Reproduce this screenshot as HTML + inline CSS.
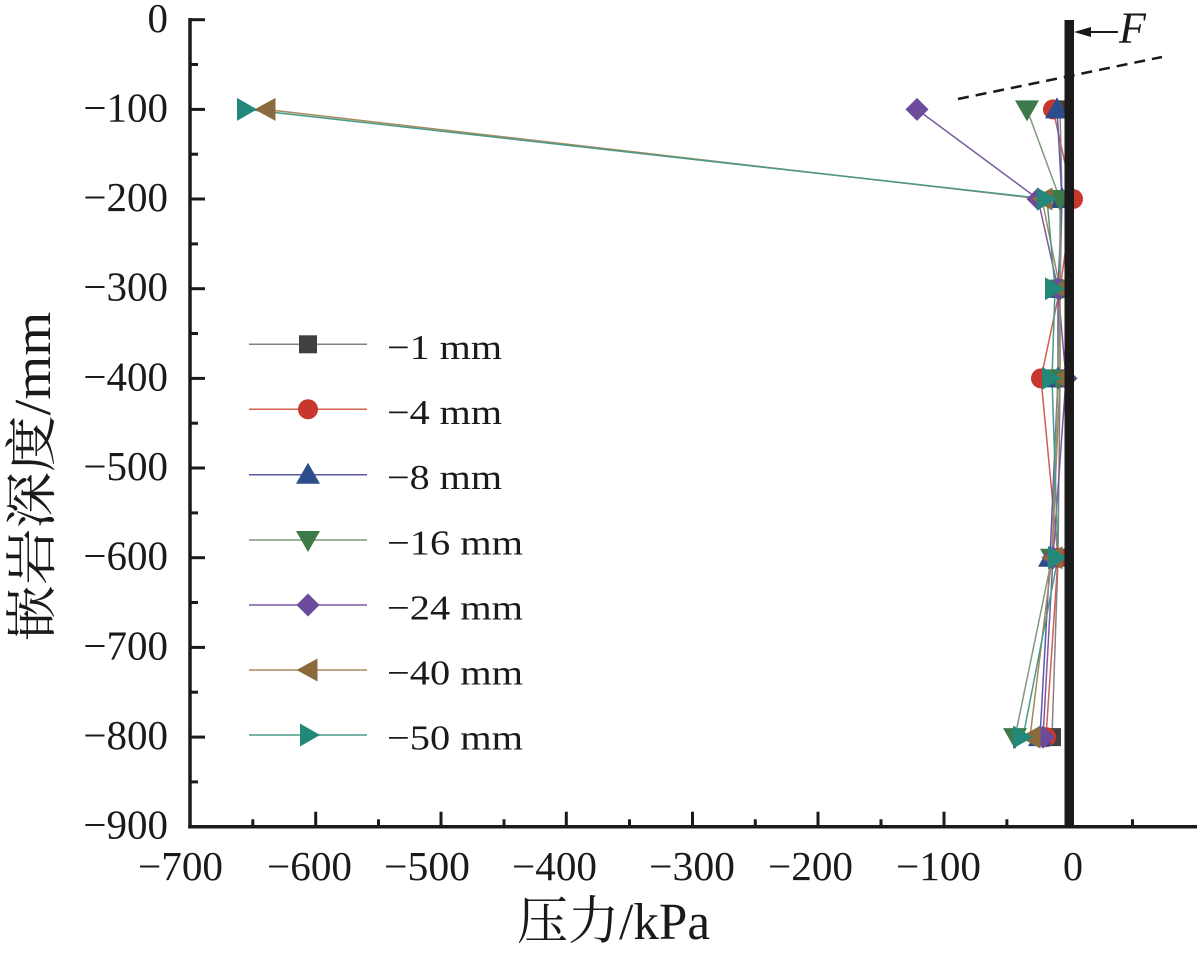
<!DOCTYPE html>
<html>
<head>
<meta charset="utf-8">
<style>
html,body{margin:0;padding:0;background:#fff;}
svg{display:block;}
text{font-family:"Liberation Serif","Noto Serif CJK SC",serif;fill:#1a1a1a;}
</style>
</head>
<body>
<svg width="1204" height="959" viewBox="0 0 1204 959" xmlns="http://www.w3.org/2000/svg">
<rect width="1204" height="959" fill="#fff"/>

<!-- axes -->
<g stroke="#1a1a1a" stroke-width="3.5" fill="none">
  <line x1="190" y1="18" x2="190" y2="828.5"/>
  <line x1="188.2" y1="826.7" x2="1197" y2="826.7"/>
</g>
<!-- y ticks -->
<g stroke="#1a1a1a" stroke-width="3">
  <line x1="190" y1="19.7" x2="205" y2="19.7"/>
  <line x1="190" y1="109.4" x2="205" y2="109.4"/>
  <line x1="190" y1="199.0" x2="205" y2="199.0"/>
  <line x1="190" y1="288.7" x2="205" y2="288.7"/>
  <line x1="190" y1="378.4" x2="205" y2="378.4"/>
  <line x1="190" y1="468.0" x2="205" y2="468.0"/>
  <line x1="190" y1="557.7" x2="205" y2="557.7"/>
  <line x1="190" y1="647.4" x2="205" y2="647.4"/>
  <line x1="190" y1="737.1" x2="205" y2="737.1"/>
  <line x1="190" y1="64.5" x2="198" y2="64.5"/>
  <line x1="190" y1="154.2" x2="198" y2="154.2"/>
  <line x1="190" y1="243.9" x2="198" y2="243.9"/>
  <line x1="190" y1="333.5" x2="198" y2="333.5"/>
  <line x1="190" y1="423.2" x2="198" y2="423.2"/>
  <line x1="190" y1="512.9" x2="198" y2="512.9"/>
  <line x1="190" y1="602.5" x2="198" y2="602.5"/>
  <line x1="190" y1="692.2" x2="198" y2="692.2"/>
  <line x1="190" y1="781.9" x2="198" y2="781.9"/>
</g>
<!-- x ticks -->
<g stroke="#1a1a1a" stroke-width="3">
  <line x1="315.7" y1="826.7" x2="315.7" y2="811.7"/>
  <line x1="441.0" y1="826.7" x2="441.0" y2="811.7"/>
  <line x1="566.3" y1="826.7" x2="566.3" y2="811.7"/>
  <line x1="692.5" y1="826.7" x2="692.5" y2="811.7"/>
  <line x1="818.0" y1="826.7" x2="818.0" y2="811.7"/>
  <line x1="944.0" y1="826.7" x2="944.0" y2="811.7"/>
  <line x1="252.8" y1="826.7" x2="252.8" y2="819.3"/>
  <line x1="378.5" y1="826.7" x2="378.5" y2="819.3"/>
  <line x1="504.0" y1="826.7" x2="504.0" y2="819.3"/>
  <line x1="629.5" y1="826.7" x2="629.5" y2="819.3"/>
  <line x1="755.3" y1="826.7" x2="755.3" y2="819.3"/>
  <line x1="881.0" y1="826.7" x2="881.0" y2="819.3"/>
  <line x1="1006.9" y1="826.7" x2="1006.9" y2="819.3"/>
  <line x1="1132.5" y1="826.7" x2="1132.5" y2="819.3"/>
</g>

<!-- y tick labels -->
<g font-size="41" text-anchor="end">
  <text x="168" y="32">0</text>
  <text x="168" y="121.5">−100</text>
  <text x="168" y="211">−200</text>
  <text x="168" y="300.7">−300</text>
  <text x="168" y="390.4">−400</text>
  <text x="168" y="480">−500</text>
  <text x="168" y="569.7">−600</text>
  <text x="168" y="659.4">−700</text>
  <text x="168" y="749.1">−800</text>
  <text x="168" y="838.7">−900</text>
</g>
<!-- x tick labels -->
<g font-size="41">
  <text x="138" y="880" textLength="85" lengthAdjust="spacingAndGlyphs">−700</text>
  <text x="267" y="880" textLength="85" lengthAdjust="spacingAndGlyphs">−600</text>
  <text x="384" y="880" textLength="86" lengthAdjust="spacingAndGlyphs">−500</text>
  <text x="512" y="880" textLength="85" lengthAdjust="spacingAndGlyphs">−400</text>
  <text x="649" y="880" textLength="86" lengthAdjust="spacingAndGlyphs">−300</text>
  <text x="768" y="880" textLength="85" lengthAdjust="spacingAndGlyphs">−200</text>
  <text x="896" y="880" textLength="85" lengthAdjust="spacingAndGlyphs">−100</text>
  <text x="1063" y="880" textLength="20" lengthAdjust="spacingAndGlyphs">0</text>
</g>

<!-- axis titles -->
<text x="517" y="939" font-size="52" textLength="193" lengthAdjust="spacingAndGlyphs">压力/kPa</text>
<text transform="translate(50,641.7) rotate(-90)" x="0" y="0" font-size="52" textLength="330" lengthAdjust="spacingAndGlyphs">嵌岩深度/mm</text>

<!-- dashed line -->
<line x1="958" y1="99" x2="1162" y2="57" stroke="#1a1a1a" stroke-width="2.5" stroke-dasharray="11,7"/>

<!-- series lines -->
<g fill="none" stroke-width="1.5">
  <polyline stroke="#85808a" points="1060,109.4 1062,199 1060,288.7 1060,378.4 1058,557.7 1052,737.1"/>
  <polyline stroke="#d0604f" points="1053,109.4 1073,199 1060,288.7 1041,378.4 1058,557.7 1046,737.1"/>
  <polyline stroke="#5a5aa6" points="1057,109.4 1062,199 1058,288.7 1058,378.4 1050,557.7 1040,737.1"/>
  <polyline stroke="#7f9a7c" points="1027,109.4 1060,199 1060,288.7 1058,378.4 1052,557.7 1015,737.1"/>
  <polyline stroke="#7a5aa2" points="917,109.4 1038,199 1058,288.7 1066,378.4 1053,557.7 1043,737.1"/>
  <polyline stroke="#a8875a" points="265,109.4 1042,199 1060,288.7 1060,378.4 1052,557.7 1030,737.1"/>
  <polyline stroke="#4a9a8a" points="247,109.4 1047,199 1055,288.7 1052,378.4 1058,557.7 1023,737.1"/>
</g>

<defs>
  <rect id="msq" x="-9" y="-9" width="18" height="18" fill="#404040"/>
  <circle id="mci" r="10" fill="#c8372d"/>
  <polygon id="mtu" points="0,-12 -12,9 12,9" fill="#2b4d8c"/>
  <polygon id="mtd" points="-12,-9 12,-9 0,12" fill="#3d7a4a"/>
  <polygon id="mdi" points="0,-11.5 11.5,0 0,11.5 -11.5,0" fill="#6c4a9c"/>
  <polygon id="mtl" points="-10.5,0 10.5,-11.5 10.5,11.5" fill="#8b6b3e"/>
  <polygon id="mtr" points="-10,-11.5 10,0 -10,11.5" fill="#23877a"/>
</defs>

<!-- series markers -->
<g>
  <use href="#msq" x="1060" y="109.4"/><use href="#msq" x="1062" y="199"/><use href="#msq" x="1060" y="288.7"/><use href="#msq" x="1060" y="378.4"/><use href="#msq" x="1058" y="557.7"/><use href="#msq" x="1052" y="737.1"/>
  <use href="#mci" x="1053" y="109.4"/><use href="#mci" x="1073" y="199"/><use href="#mci" x="1060" y="288.7"/><use href="#mci" x="1041" y="378.4"/><use href="#mci" x="1058" y="557.7"/><use href="#mci" x="1046" y="737.1"/>
  <use href="#mtu" x="1057" y="109.4"/><use href="#mtu" x="1062" y="199"/><use href="#mtu" x="1058" y="288.7"/><use href="#mtu" x="1058" y="378.4"/><use href="#mtu" x="1050" y="557.7"/><use href="#mtu" x="1040" y="737.1"/>
  <use href="#mtd" x="1027" y="109.4"/><use href="#mtd" x="1060" y="199"/><use href="#mtd" x="1060" y="288.7"/><use href="#mtd" x="1058" y="378.4"/><use href="#mtd" x="1052" y="557.7"/><use href="#mtd" x="1015" y="737.1"/>
  <use href="#mdi" x="917" y="109.4"/><use href="#mdi" x="1038" y="199"/><use href="#mdi" x="1058" y="288.7"/><use href="#mdi" x="1066" y="378.4"/><use href="#mdi" x="1053" y="557.7"/><use href="#mdi" x="1043" y="737.1"/>
  <use href="#mtl" x="265" y="109.4"/><use href="#mtl" x="1042" y="199"/><use href="#mtl" x="1060" y="288.7"/><use href="#mtl" x="1060" y="378.4"/><use href="#mtl" x="1052" y="557.7"/><use href="#mtl" x="1030" y="737.1"/>
  <use href="#mtr" x="247" y="109.4"/><use href="#mtr" x="1047" y="199"/><use href="#mtr" x="1055" y="288.7"/><use href="#mtr" x="1052" y="378.4"/><use href="#mtr" x="1058" y="557.7"/><use href="#mtr" x="1023" y="737.1"/>
</g>

<!-- pile -->
<rect x="1064.5" y="20" width="9.5" height="807" fill="#1a1a1a"/>
<!-- F arrow -->
<line x1="1089" y1="32" x2="1118" y2="32" stroke="#1a1a1a" stroke-width="2"/>
<polygon points="1074,32 1091,27 1091,37" fill="#1a1a1a"/>
<text x="1119" y="42.7" font-size="44" font-style="italic">F</text>

<!-- legend -->
<g stroke-width="1.5">
  <line x1="249" y1="344.3" x2="367" y2="344.3" stroke="#85808a"/>
  <line x1="249" y1="409.3" x2="367" y2="409.3" stroke="#d0604f"/>
  <line x1="249" y1="474.7" x2="367" y2="474.7" stroke="#5a5aa6"/>
  <line x1="249" y1="540" x2="367" y2="540" stroke="#7f9a7c"/>
  <line x1="249" y1="605" x2="367" y2="605" stroke="#7a5aa2"/>
  <line x1="249" y1="670" x2="367" y2="670" stroke="#a8875a"/>
  <line x1="249" y1="735" x2="367" y2="735" stroke="#4a9a8a"/>
</g>
<use href="#msq" x="308" y="344.3"/>
<use href="#mci" x="308" y="409.3"/>
<use href="#mtu" x="308" y="474.7"/>
<use href="#mtd" x="308" y="540"/>
<use href="#mdi" x="308" y="605"/>
<use href="#mtl" x="307" y="670"/>
<use href="#mtr" x="310" y="735"/>
<g font-size="35">
  <text x="387" y="358.8" textLength="115" lengthAdjust="spacingAndGlyphs">−1 mm</text>
  <text x="387" y="423.8" textLength="115" lengthAdjust="spacingAndGlyphs">−4 mm</text>
  <text x="387" y="489.2" textLength="115" lengthAdjust="spacingAndGlyphs">−8 mm</text>
  <text x="387" y="554.5" textLength="136" lengthAdjust="spacingAndGlyphs">−16 mm</text>
  <text x="387" y="619.5" textLength="136" lengthAdjust="spacingAndGlyphs">−24 mm</text>
  <text x="387" y="684.5" textLength="136" lengthAdjust="spacingAndGlyphs">−40 mm</text>
  <text x="387" y="749.5" textLength="136" lengthAdjust="spacingAndGlyphs">−50 mm</text>
</g>
</svg>
</body>
</html>
